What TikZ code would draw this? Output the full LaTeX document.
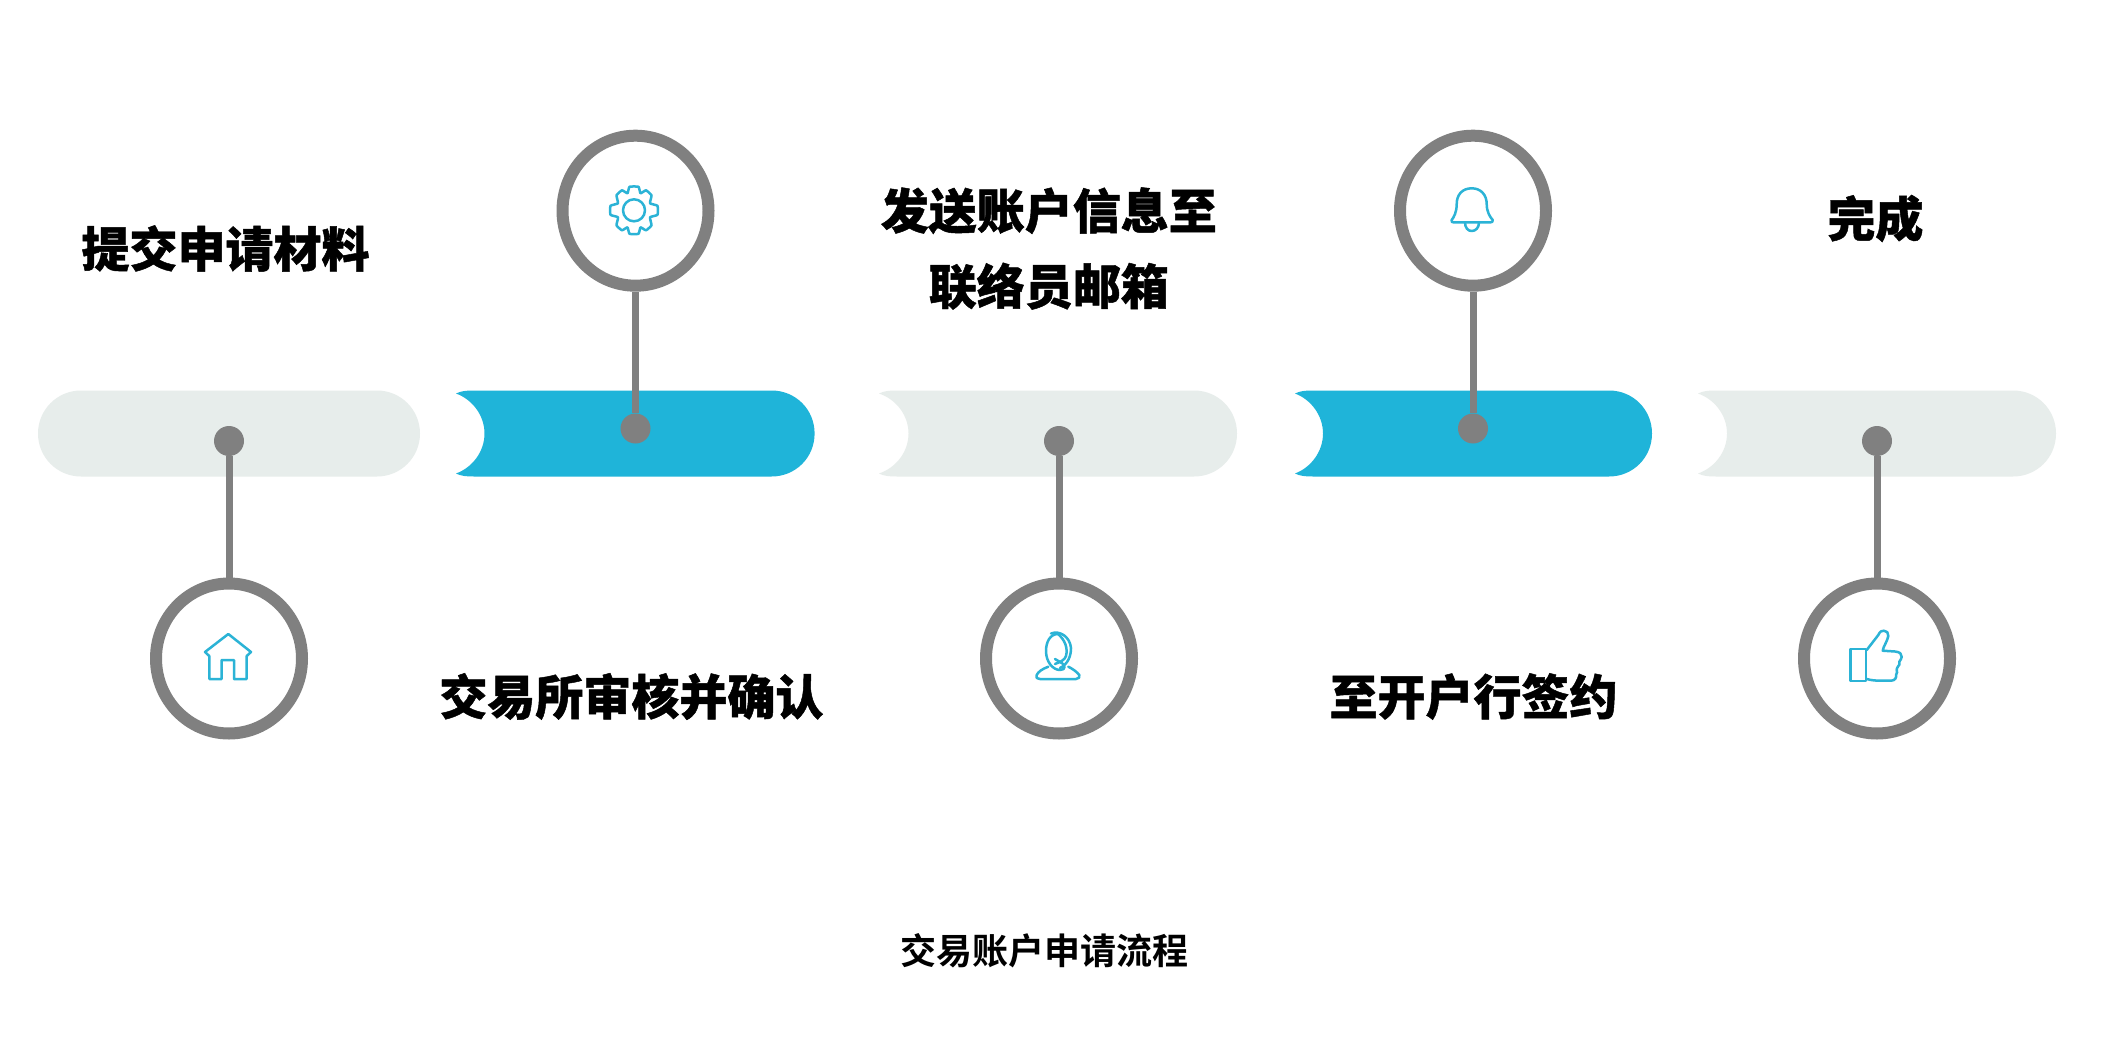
\documentclass[tikz,border=0pt]{standalone}
\usepackage{fontspec}
\usetikzlibrary{shapes.geometric}
\newfontfamily\cjkhead[FakeBold=1]{Noto Sans CJK SC Black}
\newfontfamily\cjkcap{Noto Sans CJK SC Bold}
\definecolor{barblue}{HTML}{1FB4D9}
\definecolor{bargrey}{HTML}{E7EDEB}
\definecolor{ringgrey}{HTML}{808080}
\definecolor{iconblue}{HTML}{2BB3D6}
\newcommand{\notchbar}[4]{% tip, apex, right, colour
  \fill[#4] (#1,393.5) .. controls (#1+5,391) and (#1+10,390.5) .. (#1+18,390.5)
    -- (#3-43,390.5) .. controls (#3-19,390.5) and (#3,409.5) .. (#3,433.5)
    .. controls (#3,457.5) and (#3-19,476.5) .. (#3-43,476.5)
    -- (#1+18,476.5) .. controls (#1+10,476.5) and (#1+5,476) .. (#1,473.5)
    .. controls (#2-12,467.5) and (#2,451.5) .. (#2,433.5)
    .. controls (#2,415.5) and (#2-12,399.5) .. (#1,393.5) -- cycle;}
\tikzset{
  x=1pt,y=-1pt,
  ring/.style={ellipse,draw=ringgrey,line width=12pt,fill=white,minimum width=146pt,minimum height=150pt,inner sep=0pt},
  dot/.style={circle,fill=ringgrey,minimum size=30pt,inner sep=0pt},
  link/.style={draw=ringgrey,line width=7pt},
  headtext/.style={align=center,inner sep=0pt,font=\cjkhead\fontsize{48}{75.5}\selectfont},
  captext/.style={inner sep=0pt,font=\cjkcap\fontsize{36}{44}\selectfont},
  icon/.style={draw=iconblue,line width=2.5pt,line join=round,line cap=round}
}
\begin{document}
\begin{tikzpicture}
\path[use as bounding box,fill=white] (0,0) rectangle (2104,1038);
% bars
\fill[bargrey,rounded corners=43pt] (38,390.5) rectangle (420,476.5);
\notchbar{456}{484.5}{814.6}{barblue}
\notchbar{879}{908.5}{1237}{bargrey}
\notchbar{1295}{1323}{1652}{barblue}
\notchbar{1698}{1727}{2056}{bargrey}
% dots and rings
\node[dot] (d1) at (229,441) {};
\node[dot] (d2) at (635.5,428.5) {};
\node[dot] (d3) at (1059,441) {};
\node[dot] (d4) at (1473,428.5) {};
\node[dot] (d5) at (1877,441) {};
\node[ring] (r1) at (229,658.5) {};
\node[ring] (r2) at (635.5,210.7) {};
\node[ring] (r3) at (1059,658.5) {};
\node[ring] (r4) at (1473,210.7) {};
\node[ring] (r5) at (1877,658.5) {};
\draw[link] (d1) -- (r1);
\draw[link] (d2) -- (r2);
\draw[link] (d3) -- (r3);
\draw[link] (d4) -- (r4);
\draw[link] (d5) -- (r5);
% texts
\node[headtext] (t1) at (225.5,248.5) {提交申请材料};
\node[headtext] (t2) at (631.4,696.5) {交易所审核并确认};
\node[headtext] (t3) at (1048.8,248.5) {发送账户信息至\\联络员邮箱};
\node[headtext] (t4) at (1473.5,696.5) {至开户行签约};
\node[headtext] (t5) at (1875.4,218.5) {完成};
\node[captext] (cap) at (1044.8,951) {交易账户申请流程};
% home icon
\draw[icon] (209.3,656) -- (209.3,679) -- (221.7,679) -- (221.7,660) -- (234,660) -- (234,679) -- (246.7,679) -- (246.7,656)
  -- (251,652) -- (228.3,634) -- (205,652) -- cycle;
% gear icon
\draw[icon] (634,210.3) circle[radius=11];
\draw[icon] plot[smooth cycle,tension=0.25] coordinates {
 (634+4.5,210.3-23.5) (634+6.5,210.3-17)
 (634+12,210.3-20) (634+17.5,210.3-15)
 (634+16,210.3-7) (634+23.5,210.3-4.5)
 (634+23.5,210.3+4.5) (634+16,210.3+7)
 (634+17.5,210.3+15) (634+12,210.3+20)
 (634+6.5,210.3+17) (634+4.5,210.3+23.5)
 (634-4.5,210.3+23.5) (634-6.5,210.3+17)
 (634-12,210.3+20) (634-17.5,210.3+15)
 (634-16,210.3+7) (634-23.5,210.3+4.5)
 (634-23.5,210.3-4.5) (634-16,210.3-7)
 (634-17.5,210.3-15) (634-12,210.3-20)
 (634-6.5,210.3-17) (634-4.5,210.3-23.5)
};
% person icon
\draw[icon] (1048.3,666.7) .. controls (1042,669) and (1038,672) .. (1036.7,675)
  .. controls (1036,678) and (1037,679) .. (1040,679) -- (1076,679)
  .. controls (1079,679) and (1080,677) .. (1079.3,675)
  .. controls (1077,672) and (1073,669) .. (1068.3,666.7);
\draw[icon] (1058,634) .. controls (1050,634) and (1046,642) .. (1046,651)
  .. controls (1046,662) and (1053,670) .. (1060,670)
  .. controls (1066,670) and (1066,665) .. (1060,662) -- (1055,659);
\draw[icon] (1051,633.5) .. controls (1060,630) and (1070,637) .. (1071,648)
  .. controls (1071,656) and (1068,664) .. (1060,668);
\draw[icon] (1058,634) .. controls (1065,640) and (1068,648) .. (1066,656) .. controls (1065,660) and (1060,662) .. (1055,664);
% bell icon
\draw[icon] (1471.7,188.3) .. controls (1462,188.3) and (1456.7,195) .. (1456.7,204)
  .. controls (1456.7,212) and (1454,217) .. (1451.7,220)
  .. controls (1451,222) and (1452,222.3) .. (1453.5,222.3) -- (1490.5,222.3)
  .. controls (1492,222.3) and (1493,222) .. (1492.7,220)
  .. controls (1490,217) and (1486.7,212) .. (1486.7,204)
  .. controls (1486.7,195) and (1481,188.3) .. (1471.7,188.3) -- cycle;
\draw[icon] (1465,222.3) .. controls (1465,228) and (1468,231) .. (1471.7,231) .. controls (1475.5,231) and (1479,228) .. (1479,222.3);
% thumb icon
\draw[icon] (1850.7,649) rectangle (1866,681);
\draw[icon] (1866.7,650) -- (1878.3,635) .. controls (1880,631) and (1882,630.7) .. (1884,630.7)
  .. controls (1887,630.7) and (1888.5,633) .. (1888.3,636) .. controls (1887.5,641) and (1883,647) .. (1882.7,650.7)
  -- (1895,651.5) .. controls (1900,652) and (1902,654) .. (1901.7,657) .. controls (1901.5,659) and (1900,660.5) .. (1899.3,661.7)
  .. controls (1900,664) and (1899.5,665) .. (1898,666.5) .. controls (1897,668) and (1896.5,669) .. (1896.7,670)
  .. controls (1897.5,672) and (1897,673) .. (1896.2,674.5) .. controls (1896.5,678) and (1895,680.5) .. (1891,680.7)
  -- (1880,680.7) .. controls (1875,680.7) and (1870,680) .. (1866.7,679);
\end{tikzpicture}
\end{document}
